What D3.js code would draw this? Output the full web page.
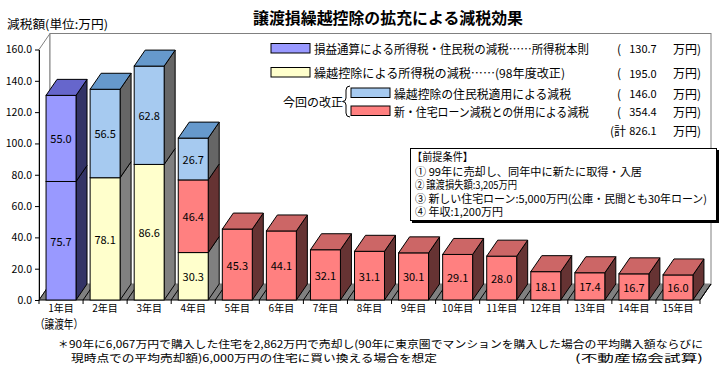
<!DOCTYPE html>
<meta charset="utf-8">
<style>
  body { margin: 0; background: #fff; font-family: "Noto Sans CJK JP", sans-serif; }
  svg text { fill: #000; }
</style>
<body>
<script src="https://cdn.jsdelivr.net/npm/d3@7"></script>
<script>

var years = ["1年目","2年目","3年目","4年目","5年目","6年目","7年目","8年目","9年目","10年目","11年目","12年目","13年目","14年目","15年目"];

// 損益通算 (two parts in year 1)
var sonekiA   = [75.7, 0, 0, 0, 0, 0, 0, 0, 0, 0, 0, 0, 0, 0, 0];
var sonekiB   = [55.0, 0, 0, 0, 0, 0, 0, 0, 0, 0, 0, 0, 0, 0, 0];
// 繰越控除 所得税
var kurikoshi = [0, 78.1, 86.6, 30.3, 0, 0, 0, 0, 0, 0, 0, 0, 0, 0, 0];
// 新・住宅ローン減税との併用
var loan      = [0, 0, 0, 46.4, 45.3, 44.1, 32.1, 31.1, 30.1, 29.1, 28.0, 18.1, 17.4, 16.7, 16.0];
// 繰越控除の住民税適用
var jumin     = [0, 56.5, 62.8, 26.7, 0, 0, 0, 0, 0, 0, 0, 0, 0, 0, 0];

var yTicks = [0, 20, 40, 60, 80, 100, 120, 140, 160];

var legendLabels = ["損益通算による所得税・住民税の減税……所得税本則",
                    "繰越控除による所得税の減税……(98年度改正)",
                    "繰越控除の住民税適用による減税",
                    "新・住宅ローン減税との併用による減税"];
var legendTotals = ["130.7", "195.0", "146.0", "354.4"];
var grandTotal = "826.1";

var conditions = ["【前提条件】",
                  "① 99年に売却し、同年中に新たに取得・入居",
                  "② 譲渡損失額:3,205万円",
                  "③ 新しい住宅ローン:5,000万円(公庫・民間とも30年ローン)",
                  "④ 年収:1,200万円"];

var keys = ["sonekiA", "sonekiB", "kurikoshi", "loan", "jumin"];
var colors = {
  sonekiA:   {front: "#9999ff", top: "#6666cc", side: "#333366"},
  sonekiB:   {front: "#9999ff", top: "#6666cc", side: "#333366"},
  kurikoshi: {front: "#ffffcc", top: "#cccc99", side: "#808080"},
  loan:      {front: "#ff8080", top: "#cc6666", side: "#663333"},
  jumin:     {front: "#a6caf0", top: "#6699cc", side: "#666666"}
};

var rows = years.map(function(yr, i) {
  return {year: yr, sonekiA: sonekiA[i], sonekiB: sonekiB[i], kurikoshi: kurikoshi[i], loan: loan[i], jumin: jumin[i]};
});

var svg = d3.select("body").append("svg")
    .attr("width", 725)
    .attr("height", 370);

var dx = 11, dy = -16;

var x = d3.scaleBand()
    .domain(years)
    .range([39, 700])
    .paddingInner(0.32)
    .paddingOuter(0.16);

var y = d3.scaleLinear()
    .domain([0, 160])
    .range([300, 49.5]);

function fit(t, len) {
  return t.attr("textLength", len).attr("lengthAdjust", "spacingAndGlyphs");
}

// title
fit(svg.append("text")
    .attr("x", 253).attr("y", 17)
    .attr("dominant-baseline", "central")
    .style("font-size", "16px").style("font-weight", "bold")
    .text("譲渡損繰越控除の拡充による減税効果"), 270);

fit(svg.append("text")
    .attr("x", 7).attr("y", 23)
    .attr("dominant-baseline", "central")
    .style("font-size", "12px")
    .text("減税額(単位:万円)"), 101);

// walls
var x0 = 39, x1 = 700, yb = y(0), yt = y(160);
svg.append("polygon")
    .attr("points", [[x0, yb], [x0, yt], [x0 + dx, yt + dy], [x0 + dx, yb + dy]].join(" "))
    .attr("fill", "#fff").attr("stroke", "#808080");
svg.append("rect")
    .attr("x", x0 + dx).attr("y", yt + dy)
    .attr("width", x1 - x0).attr("height", (yb + dy) - (yt + dy))
    .attr("fill", "#fff").attr("stroke", "#808080");

// floor
svg.append("polygon")
    .attr("points", [[x0, yb], [x1, yb], [x1 + dx, yb + dy], [x0 + dx, yb + dy]].join(" "))
    .attr("fill", "#808080").attr("stroke", "none");

var step = x.step();
d3.range(0, years.length + 1).forEach(function(k) {
  var xb = x0 + k * step;
  svg.append("line")
      .attr("x1", xb).attr("y1", yb).attr("x2", xb + dx).attr("y2", yb + dy)
      .attr("stroke", "#000");
  svg.append("line")
      .attr("x1", xb).attr("y1", yb).attr("x2", xb).attr("y2", yb + 4)
      .attr("stroke", "#000");
});
svg.append("line")
    .attr("x1", x0).attr("y1", yb).attr("x2", x1).attr("y2", yb)
    .attr("stroke", "#000");
svg.append("line")
    .attr("x1", x1).attr("y1", yb).attr("x2", x1 + dx).attr("y2", yb + dy)
    .attr("stroke", "#000");

// y axis
var yAxis = svg.append("g")
    .attr("transform", "translate(" + x0 + ",0)")
    .call(d3.axisLeft(y).tickValues(yTicks).tickFormat(d3.format(".1f")).tickSize(4).tickSizeOuter(0).tickPadding(3));
yAxis.selectAll("text").style("font-size", "10.5px").style("font-family", "Noto Sans CJK JP");

// x axis labels
var xAxis = svg.append("g")
    .attr("transform", "translate(0," + yb + ")")
    .call(d3.axisBottom(x).tickSize(0).tickPadding(5));
xAxis.select(".domain").remove();
xAxis.selectAll("text").style("font-size", "10px").style("font-family", "Noto Sans CJK JP");

fit(svg.append("text")
    .attr("x", 35).attr("y", 323)
    .attr("dominant-baseline", "central")
    .style("font-size", "12px")
    .text("（譲渡年）"), 48);

// bars
var series = d3.stack().keys(keys)(rows);
var w = x.bandwidth();

rows.forEach(function(r, i) {
  var bx = x(r.year);
  var segs = series.map(function(s) { return {key: s.key, d: s[i]}; })
      .filter(function(s) { return s.d[1] - s.d[0] > 0; });
  var g = svg.append("g");
  segs.forEach(function(s) {
    var ya = y(s.d[0]), yz = y(s.d[1]);
    var c = colors[s.key];
    g.append("polygon")
        .attr("points", [[bx + w, ya], [bx + w, yz], [bx + w + dx, yz + dy], [bx + w + dx, ya + dy]].join(" "))
        .attr("fill", c.side).attr("stroke", "#000");
    g.append("rect")
        .attr("x", bx).attr("y", yz).attr("width", w).attr("height", ya - yz)
        .attr("fill", c.front).attr("stroke", "#000");
  });
  var last = segs[segs.length - 1];
  var yTop = y(last.d[1]);
  g.append("polygon")
      .attr("points", [[bx, yTop], [bx + dx, yTop + dy], [bx + w + dx, yTop + dy], [bx + w, yTop]].join(" "))
      .attr("fill", colors[last.key].top).attr("stroke", "#000");
  segs.forEach(function(s) {
    g.append("text")
        .attr("x", bx + w / 2)
        .attr("y", (y(s.d[0]) + y(s.d[1])) / 2)
        .attr("text-anchor", "middle")
        .attr("dominant-baseline", "central")
        .style("font-size", "11px")
        .text(d3.format(".1f")(s.d[1] - s.d[0]));
  });
});

// legend
var lg = svg.append("g");
var swatches = [
  {x: 271, y: 43.5, key: "sonekiA", ty: 48},
  {x: 271, y: 67.5, key: "kurikoshi", ty: 72.5},
  {x: 351, y: 88, key: "jumin", ty: 93},
  {x: 351, y: 106, key: "loan", ty: 111}
];
var legendWidths = [275, 251, 177, 195];
swatches.forEach(function(s, i) {
  lg.append("rect")
      .attr("x", s.x).attr("y", s.y).attr("width", 39).attr("height", 9.5)
      .attr("fill", colors[s.key].front).attr("stroke", "#000");
  fit(lg.append("text")
      .attr("x", s.x + 43).attr("y", s.ty)
      .attr("dominant-baseline", "central")
      .style("font-size", "12px")
      .text(legendLabels[i]), legendWidths[i]);
  lg.append("text").attr("x", 617).attr("y", s.ty)
      .attr("dominant-baseline", "central").style("font-size", "12px").text("(");
  lg.append("text").attr("x", 643).attr("y", s.ty)
      .attr("text-anchor", "middle")
      .attr("dominant-baseline", "central").style("font-size", "11px").text(legendTotals[i]);
  lg.append("text").attr("x", 673).attr("y", s.ty)
      .attr("dominant-baseline", "central").style("font-size", "12px").text("万円)");
});
lg.append("text").attr("x", 610).attr("y", 130)
    .attr("dominant-baseline", "central").style("font-size", "12px").text("(計");
lg.append("text").attr("x", 643).attr("y", 130)
    .attr("text-anchor", "middle")
    .attr("dominant-baseline", "central").style("font-size", "11px").text(grandTotal);
lg.append("text").attr("x", 673).attr("y", 130)
    .attr("dominant-baseline", "central").style("font-size", "12px").text("万円)");

lg.append("text").attr("x", 283).attr("y", 101.5)
    .attr("dominant-baseline", "central").style("font-size", "12px").text("今回の改正");
lg.append("path")
    .attr("d", "M350,86 Q346,86 346,90 L346,98 Q346,101.5 342.5,101.5 Q346,101.5 346,105 L346,113 Q346,117 350,117")
    .attr("fill", "none").attr("stroke", "#000");

// conditions box
var bg = svg.append("g");
bg.append("rect").attr("x", 412).attr("y", 150).attr("width", 307).attr("height", 73).attr("fill", "#000");
bg.append("rect").attr("x", 410.5).attr("y", 148.5).attr("width", 306).attr("height", 72)
    .attr("fill", "#fff").attr("stroke", "#000");
var condY = [156, 170.5, 184, 197.5, 211];
var condX = [412, 415, 415, 415, 415];
var condW = [61, 227, 102, 292, 88];
conditions.forEach(function(t, i) {
  fit(bg.append("text")
      .attr("x", condX[i]).attr("y", condY[i])
      .attr("dominant-baseline", "central")
      .style("font-size", "11px")
      .text(t), condW[i]);
});

// footnote
svg.append("text").attr("x", 58).attr("y", 343.5)
    .attr("dominant-baseline", "central").style("font-size", "10.5px").text("＊");
fit(svg.append("text").attr("x", 69).attr("y", 343.5)
    .attr("dominant-baseline", "central").style("font-size", "10.5px")
    .text("90年に6,067万円で購入した住宅を2,862万円で売却し(90年に東京圏でマンションを購入した場合の平均購入額ならびに"), 634);
fit(svg.append("text").attr("x", 71).attr("y", 357.5)
    .attr("dominant-baseline", "central").style("font-size", "10.5px")
    .text("現時点での平均売却額)6,000万円の住宅に買い換える場合を想定"), 366);
fit(svg.append("text").attr("x", 575).attr("y", 357.5)
    .attr("dominant-baseline", "central").style("font-size", "10.5px")
    .text("(不動産協会試算)"), 128);

</script>
</body>
